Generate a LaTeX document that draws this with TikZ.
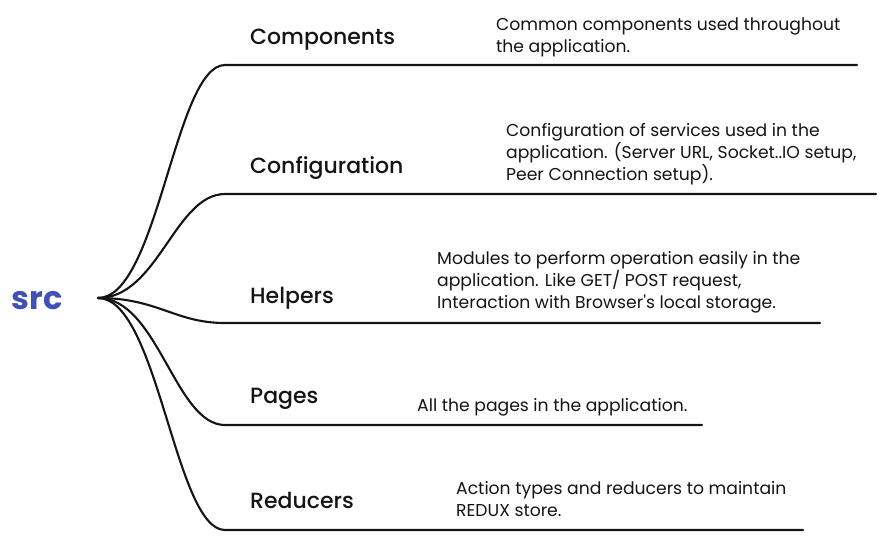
\documentclass[tikz,border=0pt]{standalone}
\usepackage{fontspec}
\setmainfont{Poppins}
\newfontfamily\labelfont{Poppins Medium}
\definecolor{srcblue}{RGB}{63,81,181}
\definecolor{ink}{RGB}{20,20,20}
\begin{document}
\begin{tikzpicture}[x=1pt,y=-1pt,
  branch/.style={line width=2.1pt,draw=ink,line cap=round},
  lbl/.style={anchor=base west,inner sep=0pt,text=ink,font=\labelfont\fontsize{22}{26}\selectfont},
  desc/.style={anchor=base west,inner sep=0pt,align=left,text=ink,font=\fontsize{17.2}{22}\selectfont},
]
\useasboundingbox (0,0) rectangle (888,550);
\node[anchor=base,inner sep=0pt,text=srcblue,font=\bfseries\fontsize{32}{36}\selectfont] (src) at (37,309) {src};
\coordinate (r) at (98,298);
% ends of curves and lines
\coordinate (e1) at (225,65);  \coordinate (f1) at (857,65);
\coordinate (e2) at (225,194); \coordinate (f2) at (876,194);
\coordinate (e3) at (225,323); \coordinate (f3) at (820,323);
\coordinate (e4) at (225,425); \coordinate (f4) at (702,425);
\coordinate (e5) at (225,530); \coordinate (f5) at (803,530);
\foreach \i in {1,...,5}{
  \draw[branch] (r) .. controls +(60,0) and +(-50,0) .. (e\i) -- (f\i);
}
\node[lbl] (l1) at (250,44) {Components};
\node[lbl] (l2) at (250,173) {Configuration};
\node[lbl] (l3) at (250,303) {Helpers};
\node[lbl] (l4) at (250,403) {Pages};
\node[lbl] (l5) at (250,508) {Reducers};
\node[desc] (d1) at (496,52) {Common components used throughout\\the application.};
\node[desc] (d2) at (506,180) {Configuration of services used in the\\application. (Server URL, Socket..IO setup,\\Peer Connection setup).};
\node[desc] (d3) at (437,308) {Modules to perform operation easily in the\\application. Like GET/ POST request,\\Interaction with Browser\textquotesingle s local storage.};
\node[desc] (d4) at (417,411) {All the pages in the application.};
\node[desc] (d5) at (456,516) {Action types and reducers to maintain\\REDUX store.};
\end{tikzpicture}
\end{document}
